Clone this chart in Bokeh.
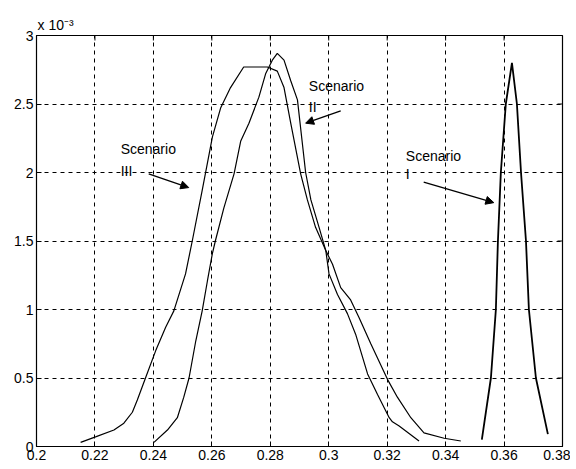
from bokeh.plotting import figure
from bokeh.models import Range1d, FixedTicker, Label, Arrow, NormalHead, Title
from bokeh.embed import file_html
from bokeh.resources import INLINE

# Values in units of 1e-3
s1_x = [0.3524, 0.3555, 0.3572, 0.3579, 0.3589, 0.3606, 0.3627, 0.3644, 0.3658, 0.3675, 0.3685, 0.3709, 0.3750]
s1_y = [0.05, 0.50, 1.00, 1.50, 2.00, 2.50, 2.80, 2.50, 2.00, 1.50, 1.00, 0.50, 0.09]

s2_x = [0.2402, 0.2448, 0.2482, 0.2504, 0.2522, 0.2545, 0.2567, 0.2585, 0.2602, 0.2612, 0.2641, 0.2676,
        0.2699, 0.2727, 0.2761, 0.2784, 0.2807, 0.2824, 0.2847, 0.2870, 0.2893, 0.2921, 0.2939, 0.2967,
        0.2990, 0.3001, 0.3030, 0.3064, 0.3092, 0.3133, 0.3167, 0.3207, 0.3218, 0.3241, 0.3309]
s2_y = [0.03, 0.12, 0.21, 0.36, 0.50, 0.77, 0.99, 1.21, 1.41, 1.50, 1.74, 1.99,
        2.23, 2.36, 2.55, 2.72, 2.82, 2.87, 2.82, 2.67, 2.53, 2.00, 1.80, 1.60,
        1.43, 1.26, 1.11, 0.97, 0.82, 0.53, 0.38, 0.21, 0.18, 0.15, 0.04]

s3_x = [0.2151, 0.2202, 0.2265, 0.2299, 0.2328, 0.2345, 0.2373, 0.2408, 0.2442, 0.2470, 0.2510, 0.2533,
        0.2567, 0.2602, 0.2630, 0.2664, 0.2709, 0.2756, 0.2790, 0.2824, 0.2847, 0.2870, 0.2904, 0.2927,
        0.2955, 0.2990, 0.3013, 0.3041, 0.3075, 0.3104, 0.3144, 0.3201, 0.3235, 0.3281, 0.3326, 0.3395,
        0.3452]
s3_y = [0.03, 0.07, 0.12, 0.17, 0.25, 0.34, 0.50, 0.70, 0.87, 0.99, 1.26, 1.50,
        1.87, 2.26, 2.47, 2.62, 2.77, 2.77, 2.77, 2.74, 2.62, 2.36, 1.99, 1.80,
        1.60, 1.43, 1.33, 1.16, 1.07, 0.94, 0.75, 0.49, 0.36, 0.21, 0.10, 0.06,
        0.04]

x_ticks = [0.2, 0.22, 0.24, 0.26, 0.28, 0.3, 0.32, 0.34, 0.36, 0.38]
x_tick_labels = ["0.2", "0.22", "0.24", "0.26", "0.28", "0.3", "0.32", "0.34", "0.36", "0.38"]
y_ticks = [0, 0.5, 1, 1.5, 2, 2.5, 3]
y_tick_labels = ["0", "0.5", "1", "1.5", "2", "2.5", "3"]

# annotation texts and positions (text x, line1 top y, line2 top y, arrow start x,y, arrow end x,y)
annotations = [
    ("Scenario", "II", 0.2932, 2.69, 2.54, 0.3041, 2.45, 0.2921, 2.36),
    ("Scenario", "III", 0.2288, 2.23, 2.07, 0.2384, 1.99, 0.2521, 1.89),
    ("Scenario", "I", 0.3264, 2.18, 2.05, 0.3325, 1.93, 0.3565, 1.78),
]

FONT = "Liberation Sans"
X0, X1, Y0, Y1 = 0.2, 0.38, 0.0, 3.0

p = figure(width=570, height=466,
           x_range=Range1d(X0, X1), y_range=Range1d(Y0, Y1),
           output_backend="svg", toolbar_location=None,
           min_border_left=36, min_border_top=35, min_border_right=8, min_border_bottom=20)
p.title = Title(text="x 10\u207b\u00b3", align="left", offset=1, standoff=6,
                text_font=FONT, text_font_size="14px", text_font_style="normal",
                text_color="black")
p.background_fill_color = "white"
p.border_fill_color = "white"
p.outline_line_color = "black"
p.outline_line_width = 1.2

for ax, ticks, labels in ((p.xaxis[0], x_ticks, x_tick_labels), (p.yaxis[0], y_ticks, y_tick_labels)):
    ax.ticker = FixedTicker(ticks=ticks)
    ax.major_label_overrides = {t: l for t, l in zip(ticks, labels)}
    ax.major_tick_in = 5
    ax.major_tick_out = 0
    ax.minor_tick_line_color = None
    ax.axis_line_color = "black"
    ax.major_tick_line_color = "black"
    ax.major_label_text_font = FONT
    ax.major_label_text_font_size = "14px"
    ax.major_label_text_color = "black"
    ax.major_label_standoff = 3

for g in (p.xgrid[0], p.ygrid[0]):
    g.grid_line_color = "black"
    g.grid_line_dash = "4 4"
    g.grid_line_width = 1
p.xgrid[0].ticker = FixedTicker(ticks=x_ticks)
p.ygrid[0].ticker = FixedTicker(ticks=y_ticks)

# inward tick marks on top and right edges
tx_len = (X1 - X0) / 105.0
ty_len = (Y1 - Y0) / 82.0
p.segment(x0=x_ticks, y0=[Y1] * len(x_ticks), x1=x_ticks, y1=[Y1 - ty_len] * len(x_ticks),
          line_color="black", line_width=1)
p.segment(x0=[X1] * len(y_ticks), y0=y_ticks, x1=[X1 - tx_len] * len(y_ticks), y1=y_ticks,
          line_color="black", line_width=1)

p.line(s3_x, s3_y, line_color="black", line_width=1.2)
p.line(s2_x, s2_y, line_color="black", line_width=1.2)
p.line(s1_x, s1_y, line_color="black", line_width=1.8)

for t1, t2, tx, ty1, ty2, ax0, ay0, ax1, ay1 in annotations:
    p.add_layout(Label(x=tx, y=ty1, text=t1, text_font=FONT, text_font_size="14px",
                       text_baseline="top", text_align="left", text_color="black"))
    p.add_layout(Label(x=tx, y=ty2, text=t2, text_font=FONT, text_font_size="14px",
                       text_baseline="top", text_align="left", text_color="black"))
    p.add_layout(Arrow(end=NormalHead(size=8, fill_color="black", line_color="black"),
                       x_start=ax0, y_start=ay0, x_end=ax1, y_end=ay1,
                       line_color="black", line_width=1.3))

open("out.html", "w").write(file_html(p, INLINE))
